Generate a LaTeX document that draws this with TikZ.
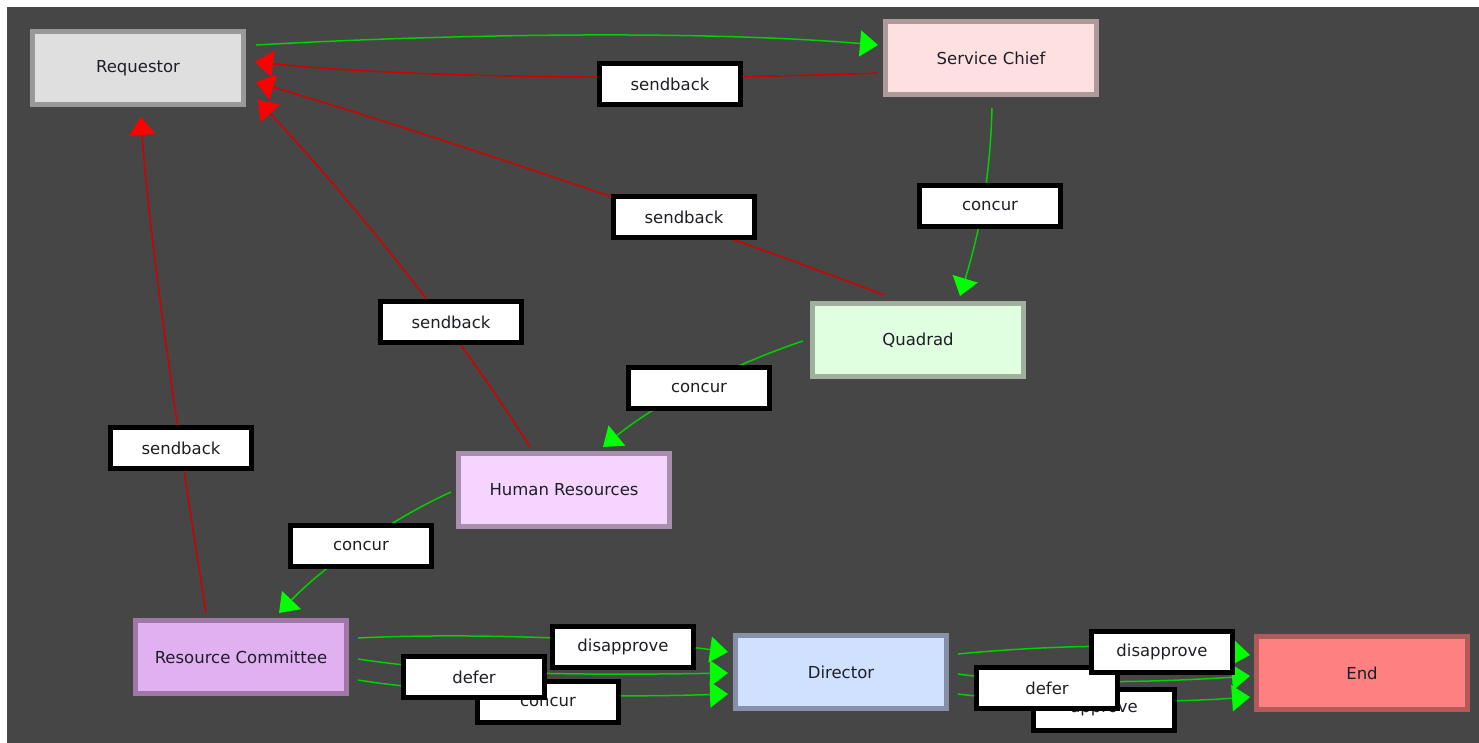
\documentclass[tikz,border=0pt]{standalone}
\usepackage{fontspec}
\setmainfont{DejaVu Sans}
\usetikzlibrary{arrows.meta,calc}
\definecolor{bg}{HTML}{464646}
\definecolor{linegreen}{HTML}{00D000}
\definecolor{headgreen}{HTML}{00FF00}
\definecolor{linered}{HTML}{D00000}
\definecolor{headred}{HTML}{FF0000}
\definecolor{txt}{HTML}{1E1E28}
\definecolor{reqfill}{HTML}{DFDFDF}\definecolor{reqdraw}{HTML}{999999}
\definecolor{scfill}{HTML}{FFE0E0}\definecolor{scdraw}{HTML}{AE9A9A}
\definecolor{qfill}{HTML}{E0FFE0}\definecolor{qdraw}{HTML}{9FB09F}
\definecolor{hrfill}{HTML}{F5D5FF}\definecolor{hrdraw}{HTML}{A88FB0}
\definecolor{rcfill}{HTML}{E0B0F0}\definecolor{rcdraw}{HTML}{A078A8}
\definecolor{dirfill}{HTML}{D0E0FF}\definecolor{dirdraw}{HTML}{8890A8}
\definecolor{endfill}{HTML}{FF8080}\definecolor{enddraw}{HTML}{B05A5A}
\tikzset{
  statebox/.style={rectangle, line width=5pt, minimum width=211pt, minimum height=73pt,
    inner sep=0pt, text=txt, font=\fontsize{16.5}{20}\selectfont},
  lbl/.style={rectangle, draw=black, fill=white, line width=5pt, minimum width=141pt,
    minimum height=41pt, inner sep=0pt, text=txt, font=\fontsize{16.5}{20}\selectfont},
  gedge/.style={draw=linegreen, line width=1.5pt,
    -{Triangle[length=18pt,width=26pt,color=headgreen]}},
  redge/.style={draw=linered, line width=1.5pt,
    -{Triangle[length=18pt,width=26pt,color=headred]}},
}
\begin{document}
\begin{tikzpicture}[x=1pt,y=-1pt]
\useasboundingbox (0,0) rectangle (1479,743);
\fill[white] (0,0) rectangle (1479,743);
\fill[bg] (7,7) rectangle (1479,743);

% states
\node[statebox, draw=reqdraw, fill=reqfill] (req) at (138,68) {Requestor};
\node[statebox, draw=scdraw, fill=scfill] (sc) at (991,58) {Service Chief};
\node[statebox, draw=qdraw, fill=qfill] (quad) at (918,340) {Quadrad};
\node[statebox, draw=hrdraw, fill=hrfill] (hr) at (564,490) {Human Resources};
\node[statebox, draw=rcdraw, fill=rcfill] (rc) at (241,657) {Resource Committee};
\node[statebox, draw=dirdraw, fill=dirfill] (dir) at (841,672) {Director};
\node[statebox, draw=enddraw, fill=endfill] (endn) at (1362,673) {End};

% edges
\draw[gedge] ($(req.center)+(118,-23)$) .. controls (450,34) and (700,30) .. ($(sc.center)+(-113,-13)$);
\draw[redge] ($(sc.center)+(-113,15)$) .. controls (760,78) and (450,82) .. ($(req.center)+(117,-6)$);
\draw[redge] ($(quad.center)+(-34,-45)$) .. controls (700,225) and (450,140) .. ($(req.center)+(118,14)$);
\draw[redge] ($(hr.center)+(-34,-43)$) .. controls (450,320) and (350,200) .. ($(req.center)+(120,32)$);
\draw[redge] ($(rc.center)+(-35,-44)$) .. controls (185,480) and (150,250) .. ($(req.center)+(3,49)$);
\draw[gedge] ($(sc.center)+(1,50)$) .. controls (990,180) and (980,230) .. ($(quad.center)+(42,-44)$);
\draw[gedge] ($(quad.center)+(-115,1)$) .. controls (740,362) and (660,400) .. ($(hr.center)+(39,-43)$);
\draw[gedge] ($(hr.center)+(-113,2)$) .. controls (400,515) and (330,560) .. ($(rc.center)+(38,-44)$);
\draw[gedge] ($(rc.center)+(117,-19)$) .. controls (480,632) and (640,640) .. ($(dir.center)+(-113,-20)$);
\draw[gedge] ($(rc.center)+(117,2)$) .. controls (420,668) and (500,677) .. ($(dir.center)+(-113,1)$);
\draw[gedge] ($(rc.center)+(117,23)$) .. controls (450,695) and (600,698) .. ($(dir.center)+(-113,22)$);
\draw[gedge] ($(dir.center)+(117,-18)$) .. controls (1040,646) and (1150,642) .. ($(endn.center)+(-112,-18)$);
\draw[gedge] ($(dir.center)+(117,2)$) .. controls (1000,680) and (1100,686) .. ($(endn.center)+(-112,3)$);
\draw[gedge] ($(dir.center)+(117,22)$) .. controls (1020,702) and (1150,704) .. ($(endn.center)+(-112,24)$);

% labels
\node[lbl] (l1) at (670,84) {sendback};
\node[lbl] (l2) at (684,217) {sendback};
\node[lbl] (l3) at (990,206) {concur};
\node[lbl] (l4) at (451,322) {sendback};
\node[lbl] (l5) at (699,388) {concur};
\node[lbl] (l6) at (181,448) {sendback};
\node[lbl] (l7) at (361,546) {concur};
\node[lbl] (l8) at (548,702) {concur};
\node[lbl] (l9) at (474,677) {defer};
\node[lbl] (l10) at (623,647) {disapprove};
\node[lbl] (l11) at (1104,710) {approve};
\node[lbl] (l12) at (1047,688) {defer};
\node[lbl] (l13) at (1162,652) {disapprove};
\end{tikzpicture}
\end{document}
